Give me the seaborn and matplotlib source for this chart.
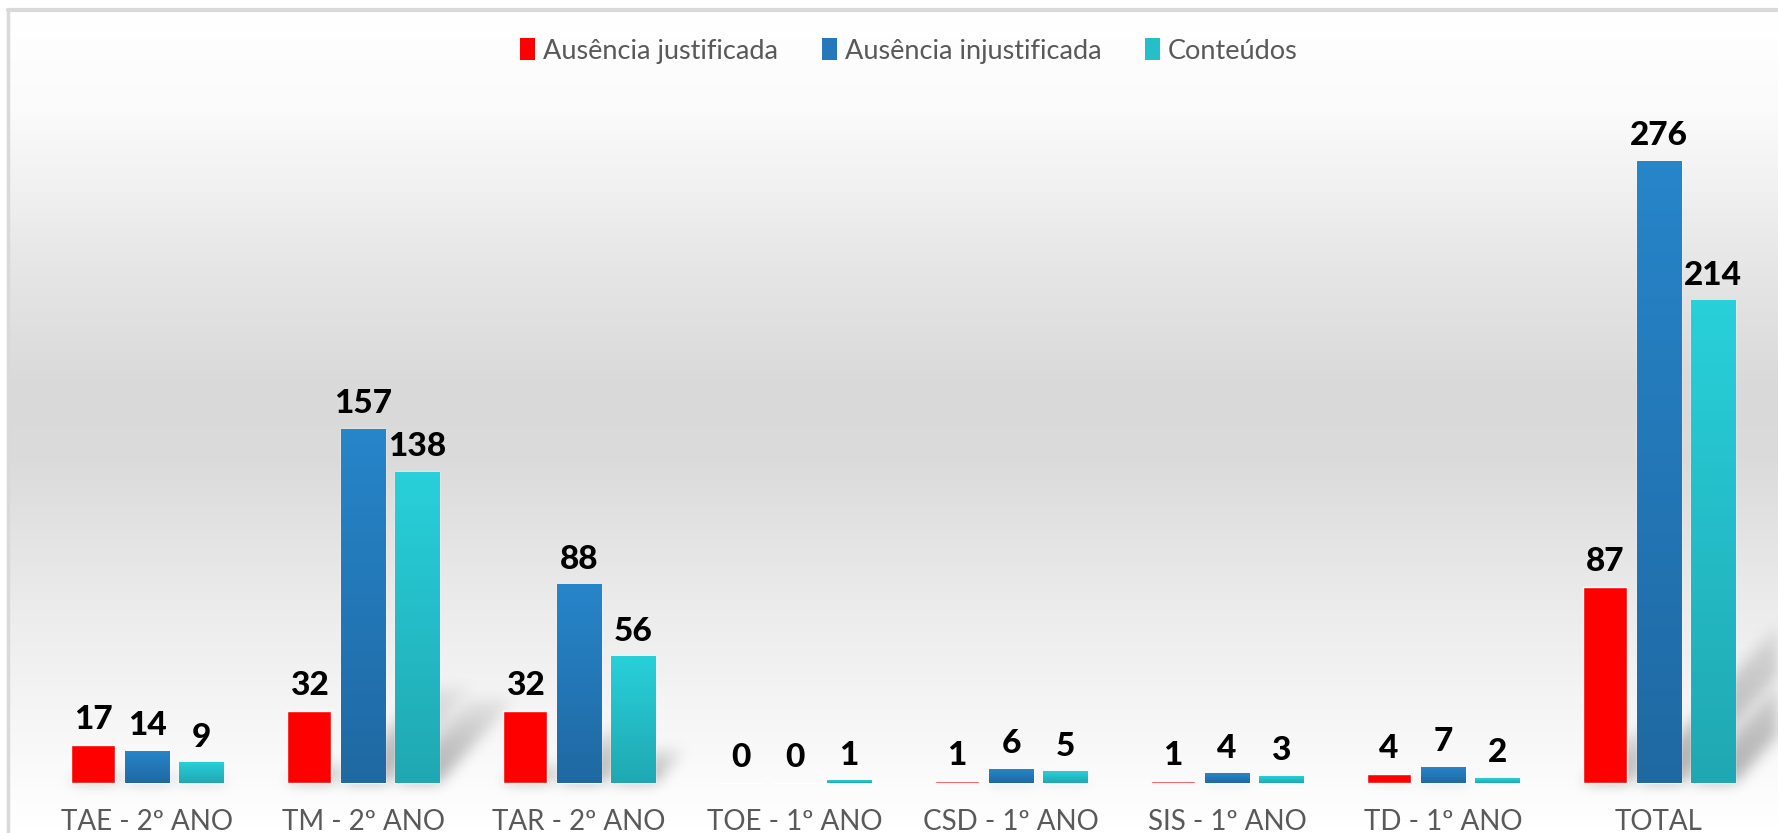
import numpy as np
import pandas as pd
import matplotlib
matplotlib.use("Agg")
import matplotlib.pyplot as plt
import seaborn as sns
from matplotlib.colors import LinearSegmentedColormap
from matplotlib.patches import Patch
from matplotlib.lines import Line2D

# dados
turmas = ["TAE - 2º ANO", "TM - 2º ANO", "TAR - 2º ANO", "TOE - 1º ANO",
          "CSD - 1º ANO", "SIS - 1º ANO", "TD - 1º ANO", "TOTAL"]
tipos = ["Ausência justificada", "Ausência injustificada", "Conteúdos"]
aus_just = [17, 32, 32, 0, 1, 1, 4, 87]
aus_injust = [14, 157, 88, 0, 6, 4, 7, 276]
conteudos = [9, 138, 56, 1, 5, 3, 2, 214]

df = pd.DataFrame({
    "Turma": turmas * 3,
    "Tipo": np.repeat(tipos, len(turmas)),
    "Valor": aus_just + aus_injust + conteudos,
})

cores = {"Ausência justificada": "#ff0000",
         "Ausência injustificada": "#2478bb",
         "Conteúdos": "#24bfc8"}
# gradientes (topo, base) das barras
grad = {1: ("#2785c9", "#1f69a3"), 2: ("#28d0da", "#20a8b2")}

sns.set_style("white")
plt.rcParams["font.family"] = ["Lato", "DejaVu Sans"]

W, H = 1778, 833
fig = plt.figure(figsize=(W / 100, H / 100), dpi=100)
ax = fig.add_axes([0, 0, 1, 1])

# fundo em degradê
bg = LinearSegmentedColormap.from_list("bg", [
    (0.0, "#ffffff"), (0.12, "#fbfbfb"), (0.3, "#e7e7e7"), (0.46, "#d9d9d9"),
    (0.55, "#dbdbdb"), (0.72, "#ebebeb"), (0.85, "#f5f5f5"), (0.95, "#fcfcfc"),
    (1.0, "#ffffff")])
fl, ft = 8 / W, 1 - 10 / H
ax.imshow(np.linspace(0, 1, 400).reshape(-1, 1), cmap=bg, aspect="auto",
          extent=(fl, 1, 0, ft), transform=ax.transAxes, zorder=0)
ax.add_line(Line2D([fl, fl], [0, ft], transform=ax.transAxes, color="#d9d9d9", lw=2.5, zorder=1))
ax.add_line(Line2D([fl, 1], [ft, ft], transform=ax.transAxes, color="#d9d9d9", lw=3, zorder=1))

sns.barplot(data=df, x="Turma", y="Valor", hue="Tipo", palette=cores,
            width=0.75, gap=0.18, saturation=1, errorbar=None,
            legend=False, ax=ax, zorder=2)

for i, cont in enumerate(ax.containers):
    if i in grad:
        top, bot = grad[i]
        cm = LinearSegmentedColormap.from_list("g%d" % i, [bot, top])
        for p in cont.patches:
            h = p.get_height()
            if h <= 0:
                continue
            x, w = p.get_x(), p.get_width()
            ax.imshow(np.linspace(1, 0, 100).reshape(-1, 1), cmap=cm, vmin=0, vmax=1,
                      extent=(x, x + w, 0, h), aspect="auto", origin="upper", zorder=3)
            p.set_facecolor("none")
    ax.bar_label(cont, padding=8, fontsize=24, fontweight="black", color="black", zorder=5)

ax.set_xlim(-0.681, 7.551)
ax.set_ylim(-22.2, 347.5)

# sombra difusa em perspectiva atrás das barras
yy, xx = np.mgrid[0:H, 0:W] + 0.5
alpha = np.zeros((H, W))
for cont in ax.containers:
    for p in cont.patches:
        (x0, yb), (x1, yt) = ax.transData.transform([(p.get_x(), 0), (p.get_x() + p.get_width(), p.get_height())])
        hp = yt - yb
        if hp < 8:
            continue
        yb_img, up, sx = H - yb, 0.28 * hp, 0.25 * hp
        t = (yb_img - yy) / up
        inside = (t >= 0) & (t <= 1) & (xx >= x0 + sx * t) & (xx <= x1 + sx * t)
        alpha = np.maximum(alpha, np.where(inside, 0.3 * (1 - t) ** 0.6, 0))
sig = 7
k = np.exp(-0.5 * (np.arange(-3 * sig, 3 * sig + 1) / sig) ** 2)
k /= k.sum()
alpha = np.apply_along_axis(lambda r: np.convolve(r, k, mode="same"), 0, alpha)
alpha = np.apply_along_axis(lambda r: np.convolve(r, k, mode="same"), 1, alpha)
shadow = np.zeros((H, W, 4))
shadow[..., 3] = alpha
ax.imshow(shadow, extent=(0, 1, 0, 1), transform=ax.transAxes, aspect="auto", zorder=1.5)

ax.set_xlim(-0.681, 7.551)
ax.set_ylim(-22.2, 347.5)
ax.set_xlabel("")
ax.set_ylabel("")
ax.set_yticks([])
ax.tick_params(axis="x", length=0, pad=-17, labelsize=20, labelcolor="#595959")
for s in ax.spines.values():
    s.set_visible(False)

handles = [Patch(facecolor=cores[t], edgecolor="none") for t in tipos]
ax.legend(handles, tipos, loc="center", bbox_to_anchor=(909 / W, 1 - 51 / H),
          ncol=3, frameon=False, fontsize=19.5, handlelength=0.55, handleheight=0.85,
          handletextpad=0.3, columnspacing=1.6, labelcolor="#595959")

fig.savefig("out.png", dpi=100)
